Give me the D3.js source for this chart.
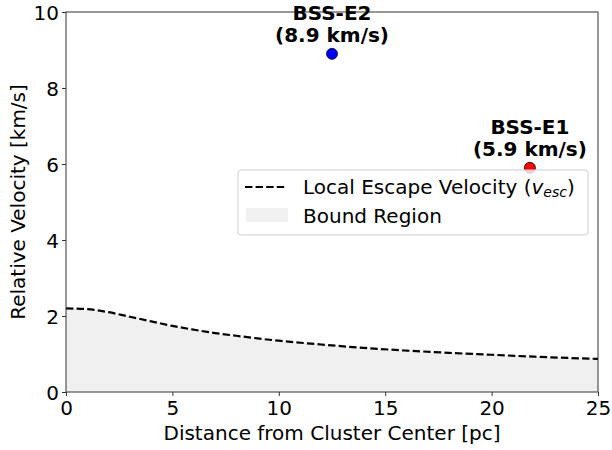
<!DOCTYPE html>
<html>
<head>
<meta charset="utf-8">
<script src="https://cdn.jsdelivr.net/npm/d3@7"></script>
<style>
  html, body { margin: 0; padding: 0; background: #fff; }
  svg { display: block; font-family: "DejaVu Sans", sans-serif; }
</style>
</head>
<body>
<svg id="chart" width="612" height="450"></svg>
<script>
// Escape-velocity profile: radius (pc) and local v_esc (km/s)
const radiusPc = [0, 1, 2, 3, 4, 5, 6, 7, 8, 9, 10, 12, 14, 16, 18, 20, 22, 25];
const vEsc = [2.20, 2.18, 2.10, 1.98, 1.86, 1.74, 1.64, 1.55, 1.48, 1.41, 1.35, 1.25, 1.16, 1.09, 1.03, 0.98, 0.93, 0.87];

// Observed stars
const starNames = ["BSS-E2", "BSS-E1"];
const starRadius = [12.5, 21.8];
const starVelocity = [8.9, 5.9];
const starColors = ["#0000ff", "#ff0000"];

const xTicks = [0, 5, 10, 15, 20, 25];
const yTicks = [0, 2, 4, 6, 8, 10];

const margin = { left: 66, right: 14, top: 12, bottom: 58 };
const W = 612, H = 450;
const FS = 20;
const svg = d3.select("#chart");

const x = d3.scaleLinear().domain([0, 25]).range([margin.left, W - margin.right]);
const y = d3.scaleLinear().domain([0, 10]).range([H - margin.bottom, margin.top]);

const profile = radiusPc.map((r, i) => ({ r, v: vEsc[i] }));
const dash = "7.4,3.2";

// Bound region under the escape curve
svg.append("path")
  .datum(profile)
  .attr("fill", "#f0f0f0")
  .attr("d", d3.area().x(d => x(d.r)).y0(y(0)).y1(d => y(d.v)).curve(d3.curveMonotoneX));

// Escape velocity curve
svg.append("path")
  .datum(profile)
  .attr("fill", "none")
  .attr("stroke", "#000")
  .attr("stroke-width", 2.2)
  .attr("stroke-dasharray", dash)
  .attr("d", d3.line().x(d => x(d.r)).y(d => y(d.v)).curve(d3.curveMonotoneX));

// Axes
const xAxis = svg.append("g")
  .attr("transform", `translate(0,${y(0)})`)
  .call(d3.axisBottom(x).tickValues(xTicks).tickSize(4).tickPadding(3));
const yAxis = svg.append("g")
  .attr("transform", `translate(${x(0)},0)`)
  .call(d3.axisLeft(y).tickValues(yTicks).tickSize(4).tickPadding(3));
[xAxis, yAxis].forEach(g => {
  g.select(".domain").remove();
  g.selectAll("line").attr("stroke", "#333");
  g.selectAll("text").attr("font-size", FS).attr("fill", "#000").attr("font-family", "DejaVu Sans");
});
xAxis.selectAll("text").attr("dy", "0.8em");
yAxis.selectAll("text").attr("dy", "0.36em");

// Frame
svg.append("rect")
  .attr("x", x(0)).attr("y", y(10))
  .attr("width", x(25) - x(0)).attr("height", y(0) - y(10))
  .attr("fill", "none").attr("stroke", "#333").attr("stroke-width", 1);

// Axis labels
svg.append("text")
  .attr("x", (x(0) + x(25)) / 2).attr("y", 440)
  .attr("text-anchor", "middle").attr("font-size", FS)
  .text("Distance from Cluster Center [pc]");
svg.append("text")
  .attr("transform", `translate(25,${(y(0) + y(10)) / 2}) rotate(-90)`)
  .attr("text-anchor", "middle").attr("font-size", FS)
  .text("Relative Velocity [km/s]");

// Stars and their two-line labels
starNames.forEach((name, i) => {
  const cx = x(starRadius[i]), cy = y(starVelocity[i]);
  svg.append("circle")
    .attr("cx", cx).attr("cy", cy).attr("r", 5.5)
    .attr("fill", starColors[i]).attr("stroke", "#000").attr("stroke-width", 0.8);
  svg.append("text")
    .attr("x", cx).attr("y", cy - 34)
    .attr("text-anchor", "middle").attr("font-size", FS).attr("font-weight", "bold")
    .text(name);
  svg.append("text")
    .attr("x", cx).attr("y", cy - 12)
    .attr("text-anchor", "middle").attr("font-size", FS).attr("font-weight", "bold")
    .text(`(${starVelocity[i]} km/s)`);
});

// Legend
const lg = svg.append("g").attr("transform", "translate(238,170)");
lg.append("rect")
  .attr("x", 0).attr("y", 0).attr("width", 350).attr("height", 65)
  .attr("rx", 3).attr("ry", 3)
  .attr("fill", "#fff").attr("fill-opacity", 0.8)
  .attr("stroke", "#ccc").attr("stroke-width", 1);
lg.append("line")
  .attr("x1", 7).attr("x2", 49).attr("y1", 17).attr("y2", 17)
  .attr("stroke", "#000").attr("stroke-width", 2.2).attr("stroke-dasharray", dash);
const lt = lg.append("text").attr("x", 65).attr("y", 24).attr("font-size", FS);
lt.append("tspan").text("Local Escape Velocity (");
lt.append("tspan").attr("font-style", "italic").text("v");
lt.append("tspan").attr("font-style", "italic").attr("font-size", 14).attr("dy", 3).text("esc");
lt.append("tspan").attr("dy", -3).text(")");
lg.append("rect")
  .attr("x", 8).attr("y", 38).attr("width", 42).attr("height", 14)
  .attr("fill", "#f0f0f0");
lg.append("text").attr("x", 65).attr("y", 53).attr("font-size", FS).text("Bound Region");
</script>
</body>
</html>
